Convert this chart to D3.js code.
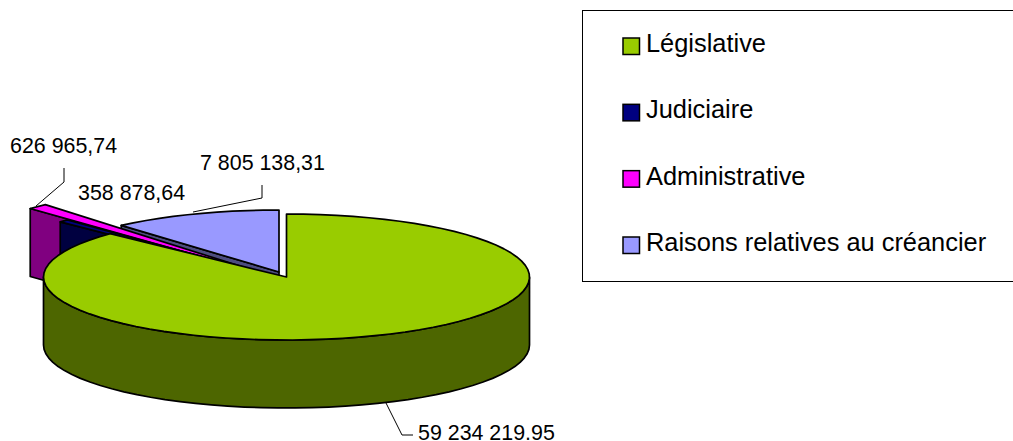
<!DOCTYPE html>
<html><head><meta charset="utf-8">
<script src="https://cdn.jsdelivr.net/npm/d3@7"></script>
<style>html,body{margin:0;background:#fff}svg{display:block}text{font-family:"Liberation Sans",Arial,sans-serif;font-size:21.4px;fill:#000}text.lg{font-size:25.4px}</style>
</head><body><div id="c"></div>
<script>
const categories = ["Législative", "Judiciaire", "Administrative", "Raisons relatives au créancier"];
const values = [59234219.95, 358878.64, 626965.74, 7805138.31];
const valueLabels = ["59 234 219.95", "358 878,64", "626 965,74", "7 805 138,31"];
const topColors = ["#99cc00", "#000080", "#ff00ff", "#9999ff"];
const wallColors = ["#4d6600", "#000040", "#800080", "#4d4d80"];

const W = 1013, H = 441, DEPTH = 68;
// per-slice projected geometry: apex and radii of the exploded slices
const geom = [
  {ax: 286.5, ay: 277, rx: 243, ry: 63},
  {ax: 283, ay: 279, rx: 307, ry: 83},
  {ax: 281, ay: 279, rx: 357, ry: 99},
  {ax: 279, ay: 272, rx: 239, ry: 62}
];
const svg = d3.select("#c").append("svg").attr("width", W).attr("height", H);
const pie = d3.pie().sort(null).startAngle(0).endAngle(2 * Math.PI);
const slices = pie(values);
const line = d3.line();
const STROKE = 1.7;
const pt = (g, a, dy = 0) => [g.ax + g.rx * Math.sin(a), g.ay - g.ry * Math.cos(a) + dy];
const arcPts = (g, a0, a1, dy = 0) => {
  const n = Math.max(1, Math.ceil(Math.abs(a1 - a0) / 0.07));
  return d3.range(n + 1).map(i => pt(g, a0 + (a1 - a0) * i / n, dy));
};
const draw = (pts, fill) => svg.append("path").attr("d", line(pts) + "Z")
  .attr("fill", fill).attr("stroke", "#000").attr("stroke-width", STROKE).attr("stroke-linejoin", "round");

// radial wall of an exploded slice (edge at startAngle faces the viewer)
const wall = i => {
  const g = geom[i], a = slices[i].startAngle, t = pt(g, a), b = pt(g, a, DEPTH);
  draw([[g.ax, g.ay], t, b, [g.ax, g.ay + DEPTH]], wallColors[i]);
};
const face = i => {
  const g = geom[i], s = slices[i];
  draw([[g.ax, g.ay], ...arcPts(g, s.startAngle, s.endAngle)], topColors[i]);
};

// back to front
wall(3);
wall(2); face(2);
wall(1); face(1);
face(3);

// main slice: front wall then top
const g0 = geom[0];
const half = Math.PI / 2;
draw([...arcPts(g0, half, 3 * half), ...arcPts(g0, 3 * half, half, DEPTH)], wallColors[0]);
face(0);

// leader lines
const leader = pts => svg.append("path").attr("d", line(pts)).attr("fill", "none").attr("stroke", "#000").attr("stroke-width", 1);
leader([[64, 168], [64, 182], [36, 206]]);
leader([[262, 185], [262, 198], [193, 212]]);
leader([[386, 403], [402, 435], [413, 435]]);

const labelPos = [[418, 440], [78, 200], [10, 153], [200, 170]];
svg.selectAll("text.v").data(valueLabels).join("text").attr("class", "v")
  .attr("x", (d, i) => labelPos[i][0]).attr("y", (d, i) => labelPos[i][1]).text(d => d);

// legend
svg.append("rect").attr("x", 582.5).attr("y", 10.5).attr("width", 440).attr("height", 271)
  .attr("fill", "none").attr("stroke", "#000").attr("stroke-width", 1);
const ly = d3.scalePoint().domain(categories).range([52, 251]);
const lg = svg.selectAll("g.l").data(categories).join("g").attr("class", "l");
lg.append("rect").attr("x", 623).attr("y", d => ly(d) - 14).attr("width", 16.5).attr("height", 16.5)
  .attr("fill", (d, i) => topColors[i]).attr("stroke", "#000").attr("stroke-width", 1.5);
lg.append("text").attr("class", "lg").attr("x", 646).attr("y", d => ly(d)).text(d => d);
</script></body></html>
